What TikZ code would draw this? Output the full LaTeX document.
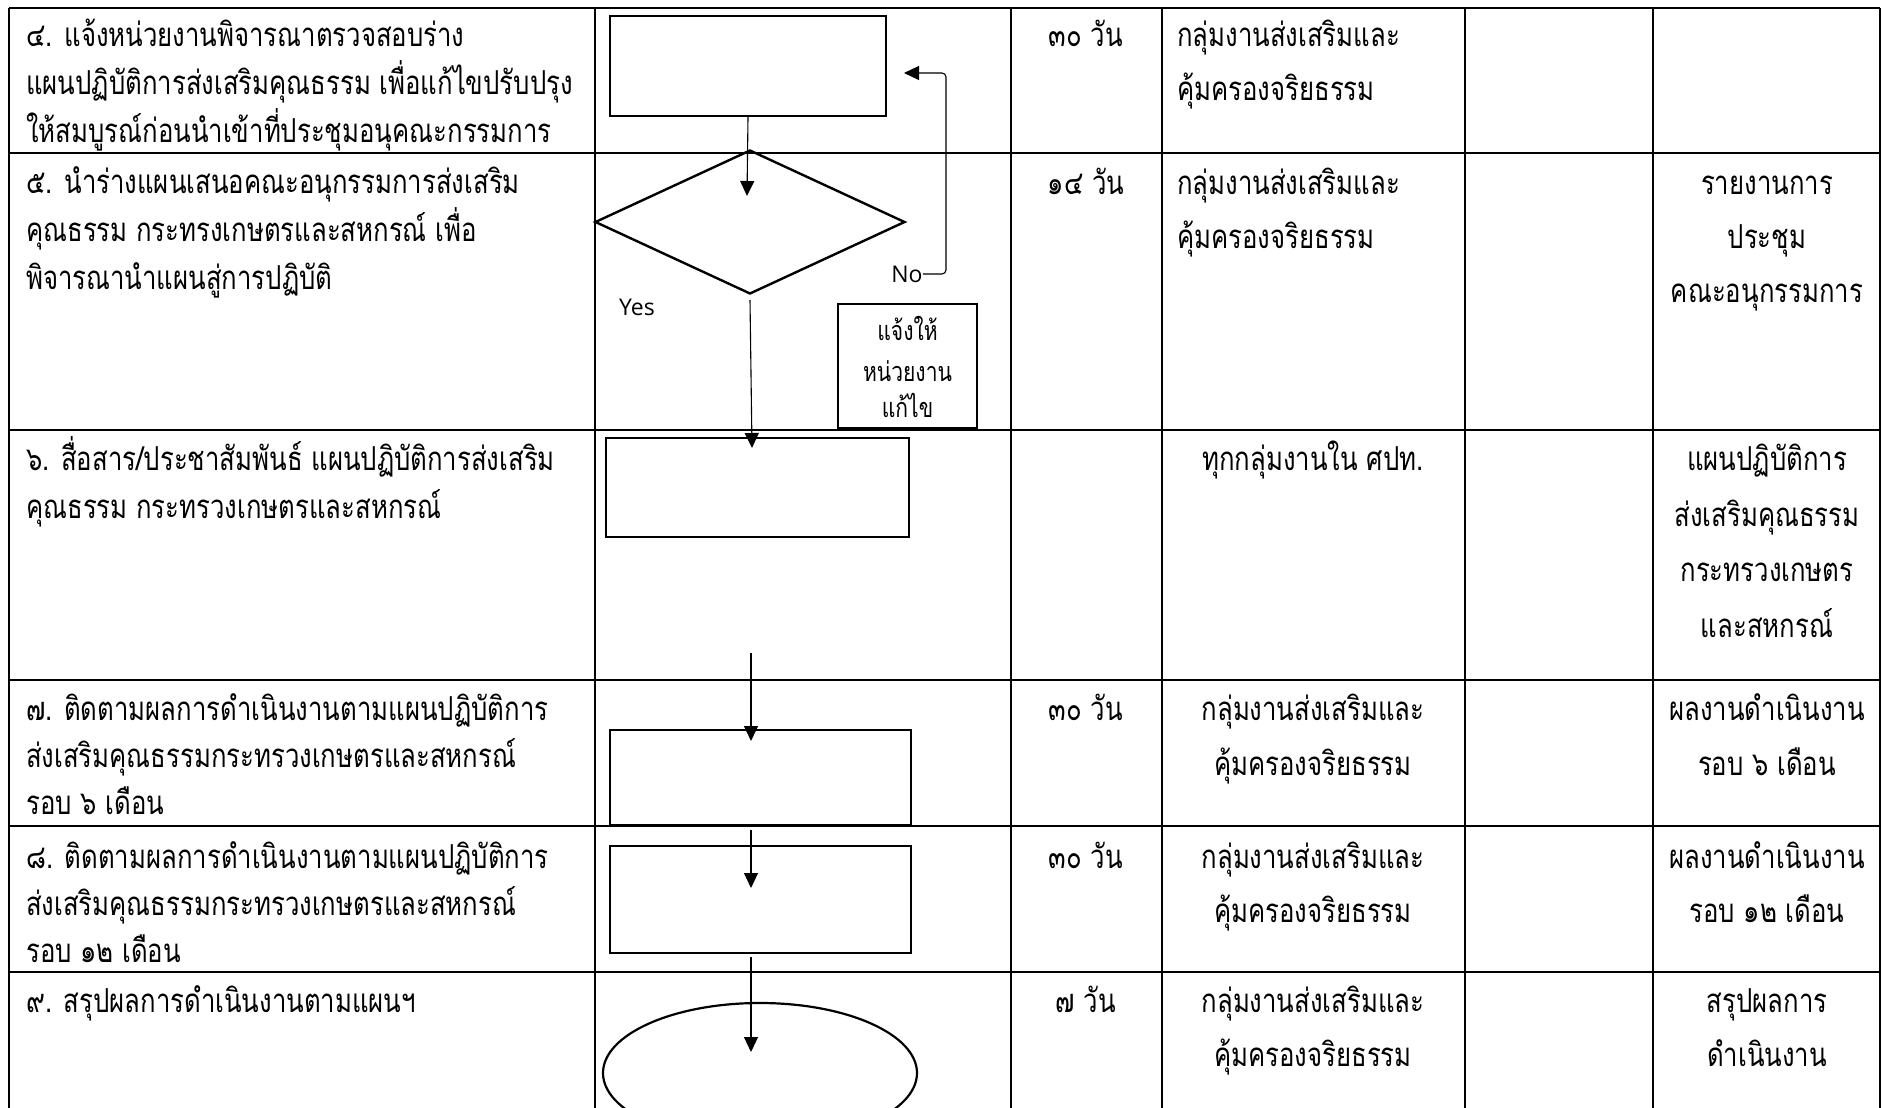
\documentclass[tikz,border=0pt]{standalone}
\usepackage{fontspec}
\usetikzlibrary{arrows.meta,shapes.geometric}
\newfontfamily\thaifont[Script=Thai,FakeStretch=0.78]{Loma}
\newfontfamily\latinsans{Open Sans}
\newcommand\mainthai{\thaifont\fontsize{33}{38}\selectfont}
\newcommand\smallthai{\thaifont\fontsize{27}{31}\selectfont}
\begin{document}
\begin{tikzpicture}[x=1pt,y=-1pt,
  grid/.style={line width=2.6pt},
  tl/.style={anchor=mid west, inner sep=0pt, yshift=-8.5pt, font=\mainthai},
  tc/.style={anchor=mid, inner sep=0pt, yshift=-8.5pt, font=\mainthai},
  ts/.style={anchor=mid, inner sep=0pt, yshift=-3pt, font=\smallthai},
  boxstep/.style={draw, line width=2.4pt, rectangle, inner sep=0pt},
  flow/.style={line width=1.1pt, -{Triangle[length=15pt,width=14pt]}},
  lat/.style={inner sep=0pt, font=\latinsans\fontsize{23}{26}\selectfont}]
\useasboundingbox (0,0) rectangle (1882,1108);
\clip (0,0) rectangle (1882,1108);
% table grid
\foreach \x in {9,595,1011,1162,1465,1653,1880}
  \draw[grid] (\x,8) -- (\x,1130);
\foreach \y in {8,153,430,680,826,972}
  \draw[grid] (9,\y) -- (1880,\y);
% column 1 texts
\foreach \t [count=\i] in {๔. แจ้งหน่วยงานพิจารณาตรวจสอบร่าง,แผนปฏิบัติการส่งเสริมคุณธรรม เพื่อแก้ไขปรับปรุง,ให้สมบูรณ์ก่อนนำเข้าที่ประชุมอนุคณะกรรมการ}
  \node[tl] (a4-\i) at (26,{36+48*(\i-1)}) {\t};
\foreach \t [count=\i] in {๕. นำร่างแผนเสนอคณะอนุกรรมการส่งเสริม,คุณธรรม กระทรงเกษตรและสหกรณ์ เพื่อ,พิจารณานำแผนสู่การปฏิบัติ}
  \node[tl] (a5-\i) at (26,{183+48*(\i-1)}) {\t};
\foreach \t [count=\i] in {๖. สื่อสาร/ประชาสัมพันธ์ แผนปฏิบัติการส่งเสริม,คุณธรรม กระทรวงเกษตรและสหกรณ์}
  \node[tl] (a6-\i) at (26,{460+48*(\i-1)}) {\t};
\foreach \t [count=\i] in {๗. ติดตามผลการดำเนินงานตามแผนปฏิบัติการ,ส่งเสริมคุณธรรมกระทรวงเกษตรและสหกรณ์,รอบ ๖ เดือน}
  \node[tl] (a7-\i) at (26,{710+47*(\i-1)}) {\t};
\foreach \t [count=\i] in {๘. ติดตามผลการดำเนินงานตามแผนปฏิบัติการ,ส่งเสริมคุณธรรมกระทรวงเกษตรและสหกรณ์,รอบ ๑๒ เดือน}
  \node[tl] (a8-\i) at (26,{858+47*(\i-1)}) {\t};
\node[tl] (a9-1) at (26,1002) {๙. สรุปผลการดำเนินงานตามแผนฯ};
% column 3 texts
\node[tc] (c4) at (1086,36) {๓๐ วัน};
\node[tc] (c5) at (1086,184) {๑๔ วัน};
\node[tc] (c7) at (1086,710) {๓๐ วัน};
\node[tc] (c8) at (1086,858) {๓๐ วัน};
\node[tc] (c9) at (1086,1002) {๗ วัน};
% column 4 texts
\node[tl] (d4-1) at (1177,36) {กลุ่มงานส่งเสริมและ};
\node[tl] (d4-2) at (1177,90) {คุ้มครองจริยธรรม};
\node[tl] (d5-1) at (1177,184) {กลุ่มงานส่งเสริมและ};
\node[tl] (d5-2) at (1177,238) {คุ้มครองจริยธรรม};
\node[tc] (d6-1) at (1313,460) {ทุกกลุ่มงานใน ศปท.};
\node[tc] (d7-1) at (1313,710) {กลุ่มงานส่งเสริมและ};
\node[tc] (d7-2) at (1313,765) {คุ้มครองจริยธรรม};
\node[tc] (d8-1) at (1313,858) {กลุ่มงานส่งเสริมและ};
\node[tc] (d8-2) at (1313,912) {คุ้มครองจริยธรรม};
\node[tc] (d9-1) at (1313,1002) {กลุ่มงานส่งเสริมและ};
\node[tc] (d9-2) at (1313,1056) {คุ้มครองจริยธรรม};
% column 6 texts
\foreach \t [count=\i] in {รายงานการ,ประชุม,คณะอนุกรรมการ}
  \node[tc] (f5-\i) at (1767,{184+54*(\i-1)}) {\t};
\foreach \t [count=\i] in {แผนปฏิบัติการ,ส่งเสริมคุณธรรม,กระทรวงเกษตร,และสหกรณ์}
  \node[tc] (f6-\i) at (1767,{460+55.5*(\i-1)}) {\t};
\node[tc] (f7-1) at (1767,710) {ผลงานดำเนินงาน};
\node[tc] (f7-2) at (1767,765) {รอบ ๖ เดือน};
\node[tc] (f8-1) at (1767,858) {ผลงานดำเนินงาน};
\node[tc] (f8-2) at (1767,912) {รอบ ๑๒ เดือน};
\node[tc] (f9-1) at (1767,1002) {สรุปผลการ};
\node[tc] (f9-2) at (1767,1056) {ดำเนินงาน};
% flowchart shapes
\node[boxstep, minimum width=276pt, minimum height=100pt] (b1) at (748,66) {};
\node[draw, diamond, line width=2.4pt, inner sep=0pt, minimum width=310pt, minimum height=144pt] (dm) at (750,222) {};
\node[boxstep, minimum width=303pt, minimum height=99pt] (b6) at (757.5,487.5) {};
\node[boxstep, minimum width=301pt, minimum height=95pt] (b7) at (760.5,777.5) {};
\node[boxstep, minimum width=301pt, minimum height=107pt] (b8) at (760.5,899.5) {};
\node[draw, ellipse, line width=2.2pt, inner sep=0pt, minimum width=314pt, minimum height=140pt] (el) at (760,1073) {};
\node[draw, line width=1.8pt, inner sep=0pt, minimum width=139pt, minimum height=124pt] (nb) at (907.5,366) {};
\node[ts] (nb-1) at (907.5,335) {แจ้งให้};
\node[ts] (nb-2) at (907.5,376) {หน่วยงาน};
\node[ts] (nb-3) at (907.5,412) {แก้ไข};
% labels
\node[lat] (no) at (907,274) {No};
\node[lat] (yes) at (637,307) {Yes};
% connector endpoints
\coordinate (p1) at (747,196);
\coordinate (nk1) at (946,274);
\coordinate (nk2) at (946,73);
\coordinate (p2) at (904,73);
\coordinate (y0) at (750,300);
\coordinate (y1) at (752,448);
\coordinate (s0) at (751,653);
\coordinate (s1) at (751,741);
\coordinate (t0) at (751,830);
\coordinate (t1) at (751,888);
\coordinate (u0) at (751,957);
\coordinate (u1) at (751,1052);
% connectors
\draw[flow] (b1.south) -- (p1);
\draw[flow, rounded corners=4pt] (no.east) -- (nk1) -- (nk2) -- (p2);
\draw[flow] (y0) -- (y1);
\draw[flow] (s0) -- (s1);
\draw[flow] (t0) -- (t1);
\draw[flow] (u0) -- (u1);
\end{tikzpicture}
\end{document}
